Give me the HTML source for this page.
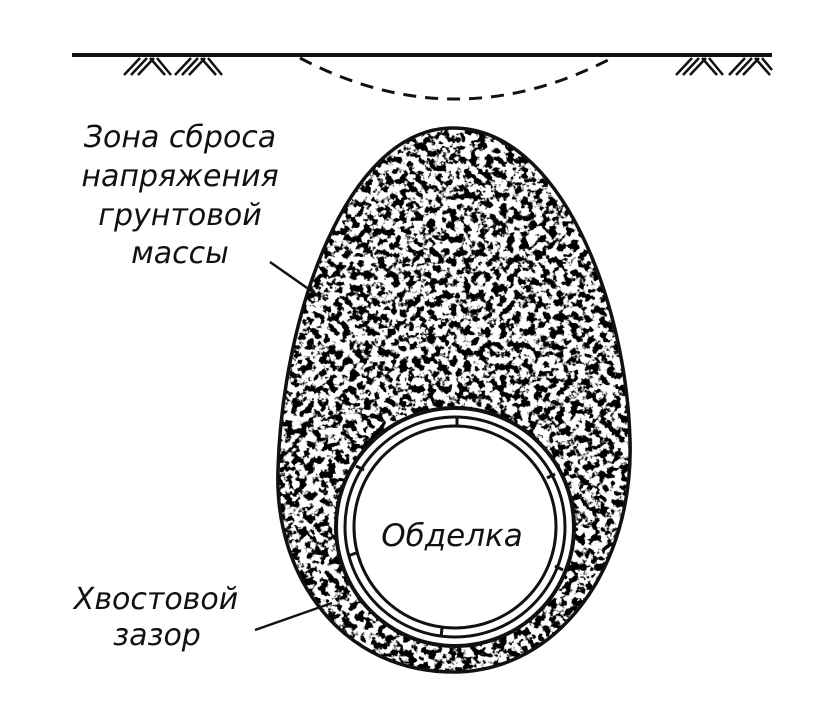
<!DOCTYPE html>
<html><head><meta charset="utf-8"><style>
html,body{margin:0;padding:0;background:#fff;width:814px;height:701px;overflow:hidden}
text{font-family:"DejaVu Sans","Liberation Sans",sans-serif;font-style:italic;fill:#111}
</style></head><body>
<svg width="814" height="701" viewBox="0 0 814 701" xmlns="http://www.w3.org/2000/svg">
<defs>
<filter id="sp" x="0" y="0" width="100%" height="100%">
<feTurbulence type="fractalNoise" baseFrequency="0.14" numOctaves="3" seed="7" result="n"/>
<feColorMatrix in="n" type="matrix" values="0 0 0 0 0  0 0 0 0 0  0 0 0 0 0  -10 0 0 0 5.3" />
</filter>
<clipPath id="egg"><path d="M453,128 C560,128 626,300 630,440 C634,565 560,672 453,672 C345,672 274,580 278,470 C282,320 345,128 453,128 Z"/></clipPath>
</defs>
<line x1="72" y1="55" x2="772" y2="55" stroke="#111" stroke-width="4"/>
<g stroke="#111" stroke-width="2.5">
<path d="M124,75 L140,58 M131,75 L147,58 M138,75 L154,58 M150,58 L165,75 M157,58 L171,75"/>
<path d="M175,75 L191,58 M182,75 L198,58 M189,75 L205,58 M201,58 L216,75 M208,58 L222,75"/>
<path d="M676,75 L692,58 M683,75 L699,58 M690,75 L706,58 M702,58 L717,75 M709,58 L723,75"/>
<path d="M729,75 L745,58 M736,75 L752,58 M743,75 L759,58 M755,58 L770,75 M762,58 L772,70"/>
</g>
<path d="M300,58 Q455,140 612,58" fill="none" stroke="#111" stroke-width="3" stroke-dasharray="13,9"/>
<g clip-path="url(#egg)">
<rect x="270" y="120" width="370" height="560" fill="#fff"/>
<rect x="270" y="120" width="370" height="560" filter="url(#sp)"/>
</g>
<path d="M453,128 C560,128 626,300 630,440 C634,565 560,672 453,672 C345,672 274,580 278,470 C282,320 345,128 453,128 Z" fill="none" stroke="#111" stroke-width="3.5"/>
<circle cx="455" cy="527" r="119" fill="#fff" stroke="#111" stroke-width="4"/>
<circle cx="455" cy="527" r="110" fill="none" stroke="#111" stroke-width="3"/>
<circle cx="455" cy="527" r="101" fill="#fff" stroke="#111" stroke-width="3"/>
<g stroke="#111" stroke-width="3">
<line x1="457" y1="417" x2="457" y2="426"/>
<line x1="547" y1="478" x2="555" y2="474"/>
<line x1="555" y1="566" x2="563" y2="570"/>
<line x1="442" y1="628" x2="441" y2="637"/>
<line x1="356" y1="553" x2="348" y2="556"/>
<line x1="364" y1="470" x2="356" y2="466"/>
</g>
<text x="452" y="546" font-size="31" text-anchor="middle">Обделка</text>
<g font-size="30" text-anchor="middle">
<text x="180" y="147">Зона сброса</text>
<text x="180" y="186">напряжения</text>
<text x="180" y="225">грунтовой</text>
<text x="180" y="263">массы</text>
<text x="156" y="609">Хвостовой</text>
<text x="157" y="645">зазор</text>
</g>
<line x1="270" y1="262" x2="320" y2="297" stroke="#111" stroke-width="2.5"/>
<line x1="255" y1="630" x2="332" y2="603" stroke="#111" stroke-width="2.5"/>
</svg>
</body></html>
